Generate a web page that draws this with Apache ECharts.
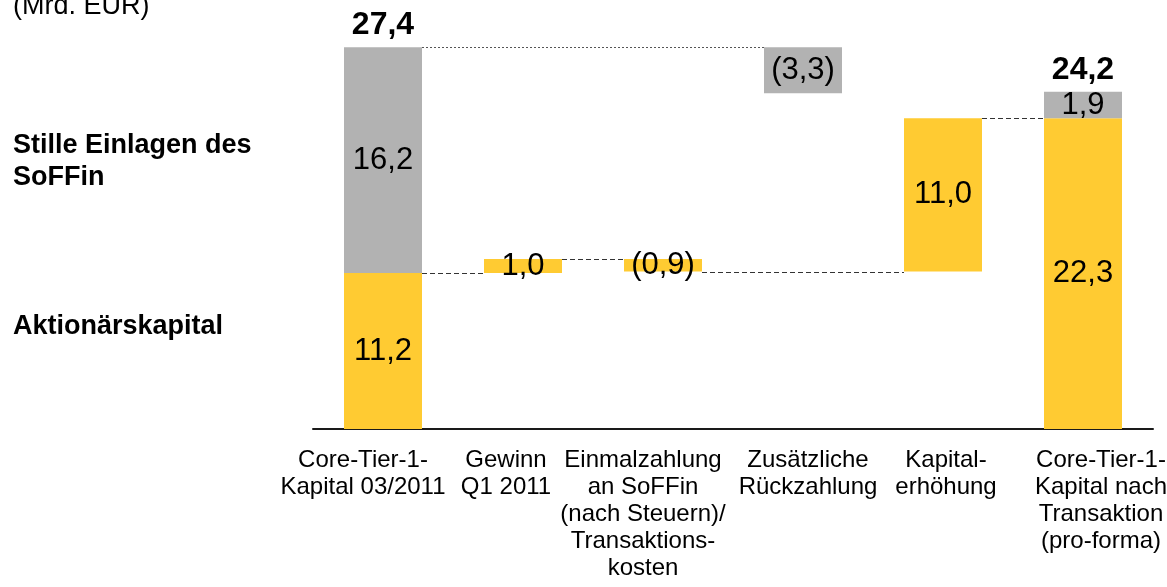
<!DOCTYPE html>
<html>
<head>
<meta charset="utf-8">
<script src="https://cdn.jsdelivr.net/npm/echarts@6/dist/echarts.min.js"></script>
<style>
html,body{margin:0;padding:0;background:#fff;}
#chart{width:1167px;height:587px;}
</style>
</head>
<body>
<div id="chart"></div>
<script>
// ---- data ----
const categories = [
  'Core-Tier-1-\nKapital 03/2011',
  'Gewinn\nQ1 2011',
  'Einmalzahlung\nan SoFFin\n(nach Steuern)/\nTransaktions-\nkosten',
  'Zusätzliche\nRückzahlung',
  'Kapital-\nerhöhung',
  'Core-Tier-1-\nKapital nach\nTransaktion\n(pro-forma)'
];
const columnKind = ['total', 'change', 'change', 'change', 'change', 'total'];
const equityValues = [11.2, 1.0, -0.9, null, 11.0, 22.3];   // Aktionärskapital
const silentValues = [16.2, null, null, -3.3, null, 1.9];   // Stille Einlagen des SoFFin
const totalValues  = [27.4, null, null, null, null, 24.2];
const rowLabels = ['Stille Einlagen des\nSoFFin', 'Aktionärskapital'];
const unitLabel = '(Mrd. EUR)';

// ---- style ----
const YELLOW = '#FFCB32', GRAY = '#B2B2B2';
const FONT = '"Liberation Sans", Arial, sans-serif';
const BAR_W = 78;
const LABEL_SHIFT = [-20, -17, -20, 5, 3, 18]; // horizontal nudge of category labels (px)

// ---- derived ----
const fmt = v => {
  const s = Math.abs(v).toFixed(1).replace('.', ',');
  return v < 0 ? '(' + s + ')' : s;
};
const helper = [], yellow = [], gray = [], connectors = [], totalsPts = [];
let eqLevel = 0, eqLast = -1, topLevel = 0, topLast = -1;
categories.forEach((c, i) => {
  if (columnKind[i] === 'total') {
    helper.push(0);
    yellow.push({ value: equityValues[i], labelText: fmt(equityValues[i]) });
    gray.push({ value: silentValues[i], labelText: fmt(silentValues[i]) });
    if (eqLast >= 0) connectors.push([eqLast, i, eqLevel, 0]);
    eqLevel = equityValues[i]; eqLast = i;
    topLevel = equityValues[i] + silentValues[i]; topLast = i;
    totalsPts.push([i, totalValues[i]]);
  } else if (equityValues[i] != null) {
    const d = equityValues[i];
    connectors.push([eqLast, i, eqLevel, 0]);
    helper.push(Math.min(eqLevel, eqLevel + d));
    yellow.push({ value: Math.abs(d), labelText: fmt(d) });
    gray.push(null);
    eqLevel += d; eqLast = i;
  } else {
    const d = silentValues[i];
    connectors.push([topLast, i, topLevel, 1]);
    helper.push(Math.min(topLevel, topLevel + d));
    gray.push({ value: Math.abs(d), labelText: fmt(d) });
    yellow.push(null);
    topLevel += d; topLast = i;
  }
});

const axisData = categories.map((c, i) => {
  const s = LABEL_SHIFT[i];
  return { value: c, textStyle: { padding: s < 0 ? [0, -2 * s, 0, 0] : [0, 0, 0, 2 * s] } };
});

const valueLabel = {
  show: true, position: 'inside', color: '#000',
  fontFamily: FONT, fontSize: 31,
  formatter: p => p.data.labelText
};

const chart = echarts.init(document.getElementById('chart'));
chart.setOption({
  animation: false,
  backgroundColor: '#fff',
  grid: { left: 313, right: 14, top: 11, bottom: 158, containLabel: false, outerBoundsMode: 'none' },
  xAxis: {
    type: 'category', data: axisData,
    axisLine: { lineStyle: { color: '#1a1a1a', width: 2 } },
    axisTick: { show: false },
    axisLabel: { interval: 0, hideOverlap: false, color: '#000', fontFamily: FONT, fontSize: 24, lineHeight: 27, margin: 18 }
  },
  yAxis: { type: 'value', min: 0, max: 30, show: false, splitLine: { show: false } },
  graphic: [
    { type: 'text', left: 13, top: -7, style: { text: unitLabel, fill: '#000', font: '27px ' + FONT } },
    { type: 'text', left: 13, top: 130, style: { text: rowLabels[0], fill: '#000', font: 'bold 27px ' + FONT, lineHeight: 32 } },
    { type: 'text', left: 13, top: 311, style: { text: rowLabels[1], fill: '#000', font: 'bold 27px ' + FONT, lineHeight: 32 } }
  ],
  series: [
    { type: 'bar', stack: 'w', barWidth: BAR_W, data: helper, itemStyle: { color: 'transparent' }, silent: true },
    { type: 'bar', stack: 'w', barWidth: BAR_W, data: yellow, itemStyle: { color: YELLOW }, label: valueLabel },
    { type: 'bar', stack: 'w', barWidth: BAR_W, data: gray, itemStyle: { color: GRAY }, label: valueLabel },
    {
      type: 'scatter', data: totalsPts, symbolSize: 0, itemStyle: { color: '#000', opacity: 0 },
      label: { show: true, position: 'top', distance: 6, color: '#000', opacity: 1, fontFamily: FONT, fontWeight: 'bold', fontSize: 32,
        formatter: p => fmt(p.data[1]) }
    },
    {
      type: 'custom', data: connectors, encode: { x: [0, 1], y: 2 }, z: 1,
      renderItem: (params, api) => {
        const p1 = api.coord([api.value(0), api.value(2)]);
        const p2 = api.coord([api.value(1), api.value(2)]);
        const dotted = api.value(3) === 1;
        const y = Math.round(p1[1]) + 0.5;
        return {
          type: 'line',
          shape: { x1: p1[0] + BAR_W / 2, y1: y, x2: p2[0] - BAR_W / 2, y2: y },
          style: { stroke: dotted ? '#555' : '#333', lineWidth: 1, lineDash: dotted ? [2, 2] : [5, 3] }
        };
      }
    }
  ]
});
</script>
</body>
</html>
